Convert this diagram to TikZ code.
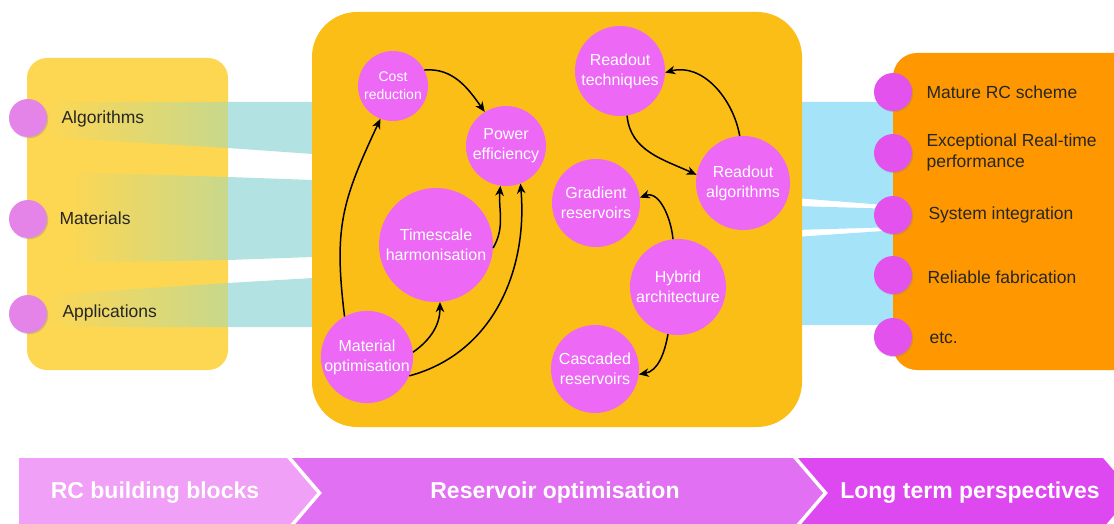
\documentclass[tikz,border=0pt]{standalone}
\usepackage{fontspec}
\setmainfont{Liberation Sans}
\usetikzlibrary{arrows.meta,shadows}
\definecolor{boxL}{RGB}{253,215,82}
\definecolor{boxC}{RGB}{251,190,22}
\definecolor{boxR}{RGB}{255,152,0}
\definecolor{bandT}{RGB}{178,227,226}
\definecolor{bandG}{RGB}{200,216,140}
\definecolor{bandC}{RGB}{165,228,248}
\definecolor{circC}{RGB}{236,104,245}
\definecolor{circL}{RGB}{228,132,232}
\definecolor{circR}{RGB}{228,82,238}
\definecolor{banA}{RGB}{240,160,246}
\definecolor{banB}{RGB}{226,112,242}
\definecolor{banC}{RGB}{222,72,240}
\begin{document}
\begin{tikzpicture}[x=1pt,y=1pt,
  bubble/.style={circle, fill=circC, text=white, align=center, inner sep=0pt, font=\fontsize{16}{20}\selectfont},
  sdot/.style={circle, fill=#1, minimum size=38pt, inner sep=0pt, drop shadow={shadow xshift=1.2pt, shadow yshift=-1.2pt, opacity=0.3}},
  lbl/.style={anchor=west, align=left, text=black!85, font=\fontsize{17.5}{21}\selectfont},
  arr/.style={-{Stealth[length=10pt,width=8.5pt,inset=3pt]}, line width=1.5pt, black},
  bantext/.style={text=white, font=\bfseries\fontsize{23}{27}\selectfont}
]
\useasboundingbox (0,0) rectangle (1114,-524);
\fill[white] (0,0) rectangle (1114,-524);

% left box
\fill[boxL, rounded corners=20pt] (27,-58) rectangle (228,-370);
% left bands
\shade[left color=boxL, right color=bandG] (43,-102) -- (228,-102) -- (228,-148) -- (43,-137) -- cycle;
\fill[bandT] (228,-102) -- (313,-102) -- (313,-154) -- (228,-148) -- cycle;
\shade[left color=boxL, right color=bandG] (67,-172) -- (228,-177) -- (228,-260) -- (67,-263) -- cycle;
\fill[bandT] (228,-177) -- (313,-180) -- (313,-257) -- (228,-260) -- cycle;
\shade[left color=boxL, right color=bandG] (43,-295) -- (228,-283) -- (228,-327) -- (43,-327) -- cycle;
\fill[bandT] (228,-283) -- (313,-278) -- (313,-327) -- (228,-327) -- cycle;
% right bands
\fill[bandC] (795,-102) -- (898,-102) -- (898,-206) -- (795,-198) -- cycle;
\fill[bandC] (795,-206) -- (898,-209) -- (898,-227) -- (795,-230) -- cycle;
\fill[bandC] (795,-237) -- (898,-230) -- (898,-325) -- (795,-325) -- cycle;
% center box
\fill[boxC, rounded corners=45pt] (312,-12) rectangle (802,-427);
% right box
\fill[boxR, rounded corners=24pt] (893,-53) rectangle (1138,-370);

% left items
\node[sdot=circL] (l1) at (28,-118) {};
\node[sdot=circL] (l2) at (28,-219) {};
\node[sdot=circL] (l3) at (28,-314) {};
\node[lbl] (t1) at (58,-119) {Algorithms};
\node[lbl] (t2) at (56,-218) {Materials};
\node[lbl] (t3) at (59,-313) {Applications};

% right items
\node[sdot=circR] (r1) at (893,-92) {};
\node[sdot=circR] (r2) at (893,-153) {};
\node[sdot=circR] (r3) at (893,-215) {};
\node[sdot=circR] (r4) at (893,-275) {};
\node[sdot=circR] (r5) at (893,-337) {};
\node[lbl] (s1) at (923,-92) {Mature RC scheme};
\node[lbl] (s2) at (923,-152) {Exceptional Real-time\\performance};
\node[lbl] (s3) at (925,-215) {System integration};
\node[lbl] (s4) at (924,-277) {Reliable fabrication};
\node[lbl] (s5) at (926,-338) {etc.};

% center bubbles
\node[bubble, minimum size=70pt, font=\fontsize{14}{18}\selectfont] (cost) at (393,-86) {Cost\\reduction};
\node[bubble, minimum size=80pt] (power) at (506,-146) {Power\\efficiency};
\node[bubble, minimum size=114pt] (time) at (436,-245) {Timescale\\harmonisation};
\node[bubble, minimum size=92pt] (mat) at (367,-357) {Material\\optimisation};
\node[bubble, minimum size=90pt] (rtech) at (620,-71) {Readout\\techniques};
\node[bubble, minimum size=94pt] (ralg) at (743,-183) {Readout\\algorithms};
\node[bubble, minimum size=88pt] (grad) at (596,-203) {Gradient\\reservoirs};
\node[bubble, minimum size=96pt] (hyb) at (678,-287) {Hybrid\\architecture};
\node[bubble, minimum size=88pt] (casc) at (595,-369) {Cascaded\\reservoirs};

% arrows
\draw[arr] (cost.27) to[out=5,in=125] (power.122);
\draw[arr] (mat.119) to[out=97,in=245,looseness=1.15] (cost.249);
\draw[arr] (mat.6) to[out=35,in=-90] (time.274);
\draw[arr] (time.-3) to[out=60,in=-95] (power.262);
\draw[arr] (mat.-24) to[out=15,in=-85] (power.291);
\draw[arr] (rtech.279) to[out=-85,in=155] (ralg.170);
\draw[arr] (ralg.94) to[out=100,in=15] (rtech.-2);
\draw[arr] (hyb.96) to[out=95,in=20] (grad.7);
\draw[arr] (hyb.258) to[out=-100,in=10] (casc.-7);

% banner
\fill[banA] (19,-458) -- (287,-458) -- (317,-493) -- (287,-528) -- (19,-528) -- cycle;
\fill[banB] (292,-458) -- (793,-458) -- (823,-493) -- (793,-528) -- (292,-528) -- (322,-493) -- cycle;
\fill[banC] (798,-458) -- (1103,-458) -- (1133,-493) -- (1103,-528) -- (798,-528) -- (828,-493) -- cycle;
\node[bantext] (b1) at (155,-493) {RC building blocks};
\node[bantext] (b2) at (555,-493) {Reservoir optimisation};
\node[bantext] (b3) at (970,-493) {Long term perspectives};
\end{tikzpicture}
\end{document}
